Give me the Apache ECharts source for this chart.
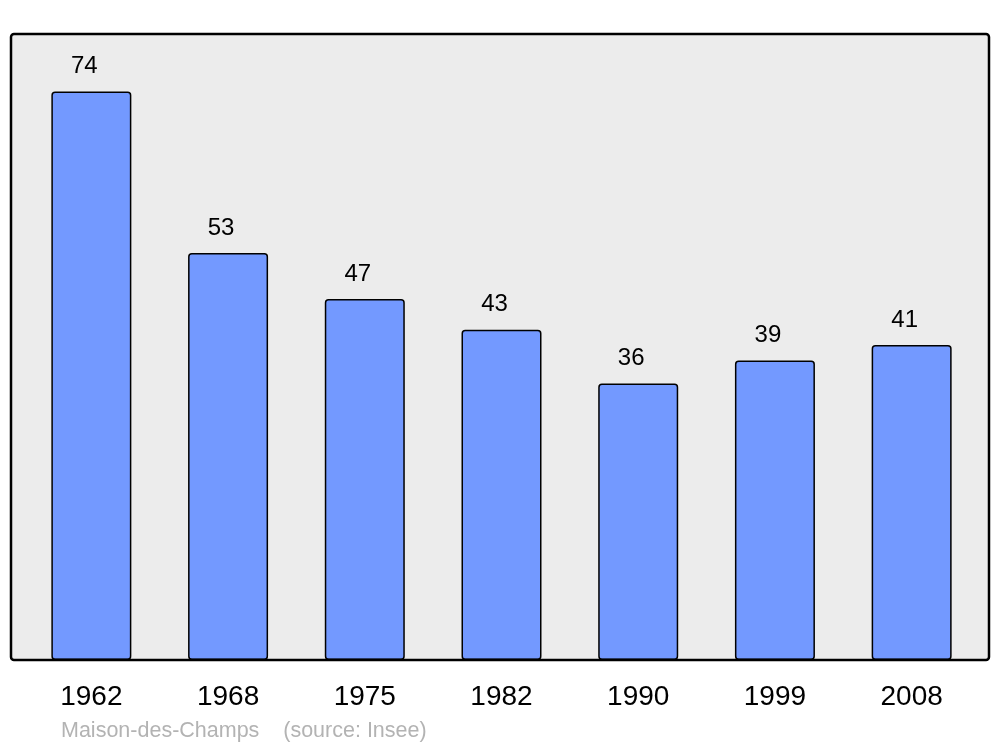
<!DOCTYPE html>
<html>
<head>
<meta charset="utf-8">
<script src="https://cdn.jsdelivr.net/npm/echarts@6/dist/echarts.min.js"></script>
<style>
html,body{margin:0;padding:0;background:#fff;}
#chart{width:1000px;height:747px;}
</style>
</head>
<body>
<div id="chart"></div>
<script>
const years = ['1962','1968','1975','1982','1990','1999','2008'];
const population = [74, 53, 47, 43, 36, 39, 41];
const footerText = 'Maison-des-Champs    (source: Insee)';

const chart = echarts.init(document.getElementById('chart'), null, {renderer: 'canvas'});
const FONT = '"Liberation Sans", Arial, sans-serif';
chart.setOption({
  animation: false,
  backgroundColor: '#ffffff',
  grid: {left: 23, width: 957, top: 34, bottom: 87, containLabel: false},
  xAxis: {
    type: 'category',
    data: years,
    axisLine: {show: false},
    axisTick: {show: false},
    axisLabel: {color: '#000', fontSize: 28, fontFamily: FONT, margin: 23}
  },
  yAxis: {
    type: 'value',
    min: 0,
    max: 81.5,
    show: false,
    splitLine: {show: false}
  },
  graphic: [
    {type: 'rect', z: -10, shape: {x: 11, y: 34, width: 978, height: 626, r: 3},
     style: {fill: '#ececec', stroke: null}},
    {type: 'rect', z: 100, silent: true, shape: {x: 11, y: 34, width: 978, height: 626, r: 3},
     style: {fill: 'none', stroke: '#000', lineWidth: 2.5}},
    {type: 'text', left: 61, top: 720,
     style: {text: footerText, fill: '#b3b3b3', fontSize: 21.5, fontFamily: FONT}}
  ],
  series: [{
    type: 'bar',
    data: population,
    barWidth: 80,
    itemStyle: {color: '#7399ff', borderColor: '#000', borderWidth: 1.5, borderRadius: 3},
    label: {show: true, position: 'top', distance: 13, offset: [-7, 0],
            color: '#000', fontSize: 24, fontFamily: FONT}
  }]
});
</script>
</body>
</html>
